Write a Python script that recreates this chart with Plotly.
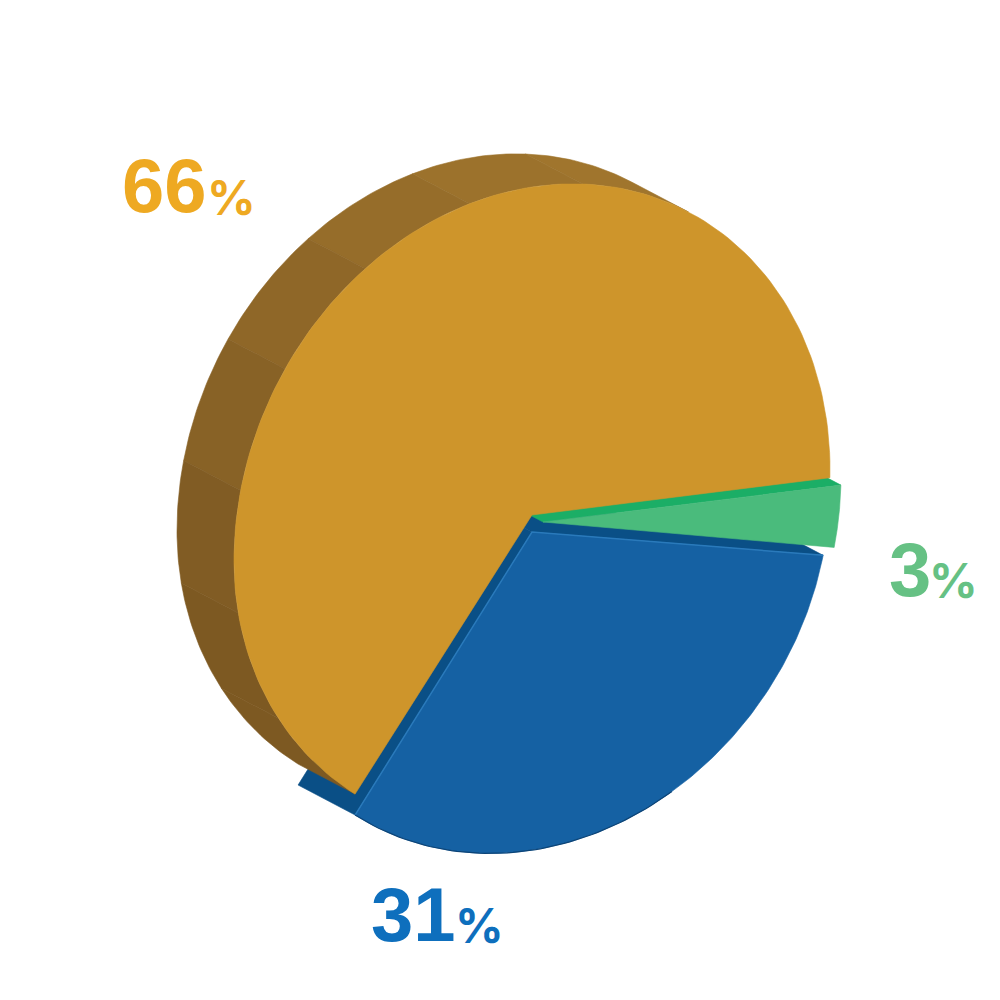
import numpy as np
import plotly.graph_objects as go

# slices, in the order they run clockwise from the right-hand edge
slice_names = ["green", "blue", "orange"]
label_values = ["3", "31", "66"]
# share of the disc each slice really takes up in the picture (percent)
drawn_shares = [3.0, 31.7, 65.3]

FACE = {"green": "#4abb7c", "blue": "#1561a3", "orange": "#ce952b"}
WALL = {"green": "#1bae66", "blue": "#0a4f86"}
LABEL = {"green": "#66c184", "blue": "#0e6fbd", "orange": "#eea922"}
side_shades = ["#a0752d", "#9c722c", "#966d2a", "#8f6728", "#886226", "#815c24", "#7d5922", "#7d5922"]

CX, CY = 532, 515
RX, RY, SHEAR = 298, 328, -45.5
DEPTH = (-57, -30)
START = 1.5
EXPLODE = {"green": (11, 7), "blue": (0, 17), "orange": (0, 0)}
# the disc is a bit flatter below its centre than above it
LOWER_SQUASH = {"green": 1.0, "blue": 0.97, "orange": 0.955}


def rim(t_deg, name):
    t = np.radians(t_deg)
    ox, oy = EXPLODE[name]
    sin_t = np.sin(t)
    x = CX + ox + RX * np.cos(t)
    y = CY + oy + SHEAR * np.cos(t) + RY * np.where(sin_t > 0, sin_t * LOWER_SQUASH[name], sin_t)
    return x, y


def apex(name):
    return CX + EXPLODE[name][0], CY + EXPLODE[name][1]


def poly(fig, xs, ys, color, width=0.6):
    fig.add_trace(go.Scatter(x=list(xs), y=list(ys), mode="lines", fill="toself", fillcolor=color,
                             line=dict(color=color, width=width), hoverinfo="skip", showlegend=False))


def edge_wall(fig, name, t_deg):
    ax, ay = apex(name)
    rx, ry = rim(t_deg, name)
    dx, dy = DEPTH
    poly(fig, [ax, rx, rx + dx, ax + dx, ax], [ay, ry, ry + dy, ay + dy, ay], WALL[name])


def wedge(fig, name, t0, t1):
    ts = np.linspace(t0, t1, 160)
    xs, ys = rim(ts, name)
    ax, ay = apex(name)
    poly(fig, np.r_[ax, xs, ax], np.r_[ay, ys, ay], FACE[name])


# angle limits from the shares
bounds = START + np.cumsum([0] + [s * 3.6 for s in drawn_shares])
span = {n: (bounds[i], bounds[i + 1]) for i, n in enumerate(slice_names)}

fig = go.Figure()

# blue walls sit lowest, the orange body covers them
edge_wall(fig, "blue", span["blue"][0])
edge_wall(fig, "blue", span["blue"][1])
edge_wall(fig, "green", span["green"][0])

# rounded side of the orange body, faceted like the original
t_lo, t_hi = span["orange"]
t_tan = 301.7  # where the depth direction is tangent to the rim
cuts = np.linspace(t_tan, t_lo, len(side_shades) + 1)
for i, shade in enumerate(side_shades):
    ts = np.linspace(cuts[i], cuts[i + 1], 24)
    xs, ys = rim(ts, "orange")
    poly(fig, np.r_[xs, xs[::-1] + DEPTH[0], xs[0]], np.r_[ys, ys[::-1] + DEPTH[1], ys[0]], shade)

wedge(fig, "orange", t_lo, t_hi)
wedge(fig, "green", *span["green"])
wedge(fig, "blue", *span["blue"])

# light edge along the cut sides of the blue face, dark one along its bottom rim
ax, ay = apex("blue")
x0, y0 = rim(span["blue"][0], "blue")
x1, y1 = rim(span["blue"][1], "blue")
fig.add_trace(go.Scatter(x=[x0, ax, x1], y=[y0, ay, y1], mode="lines", line=dict(color="#2a7abb", width=1.5),
                         hoverinfo="skip", showlegend=False))
xs, ys = rim(np.linspace(62, span["blue"][1], 60), "blue")
fig.add_trace(go.Scatter(x=xs, y=ys, mode="lines", line=dict(color="#0c4477", width=1.2),
                         hoverinfo="skip", showlegend=False))

# big number plus a smaller percent sign
label_spots = {"orange": (120, 185, 205, 197), "blue": (369, 914, 453, 925), "green": (887, 569, 927, 580)}
for name, val in zip(slice_names, label_values):
    nx, ny, px, py = label_spots[name]
    fig.add_annotation(x=nx, y=ny, text="<b>%s</b>" % val, showarrow=False, xanchor="left", yanchor="middle",
                       font=dict(family="Liberation Sans", size=76, color=LABEL[name]))
    fig.add_annotation(x=px, y=py, text="%", showarrow=False, xanchor="left", yanchor="middle",
                       font=dict(family="Inter", weight=700, size=48, color=LABEL[name]))

fig.update_layout(
    width=1000,
    height=1000,
    margin=dict(l=0, r=0, t=0, b=0),
    paper_bgcolor="white",
    plot_bgcolor="white",
    xaxis=dict(range=[0, 1000], visible=False),
    yaxis=dict(range=[1000, 0], visible=False),
)
fig.write_html("out.html", config={"displayModeBar": False}, post_script="document.body.style.margin='0';")
